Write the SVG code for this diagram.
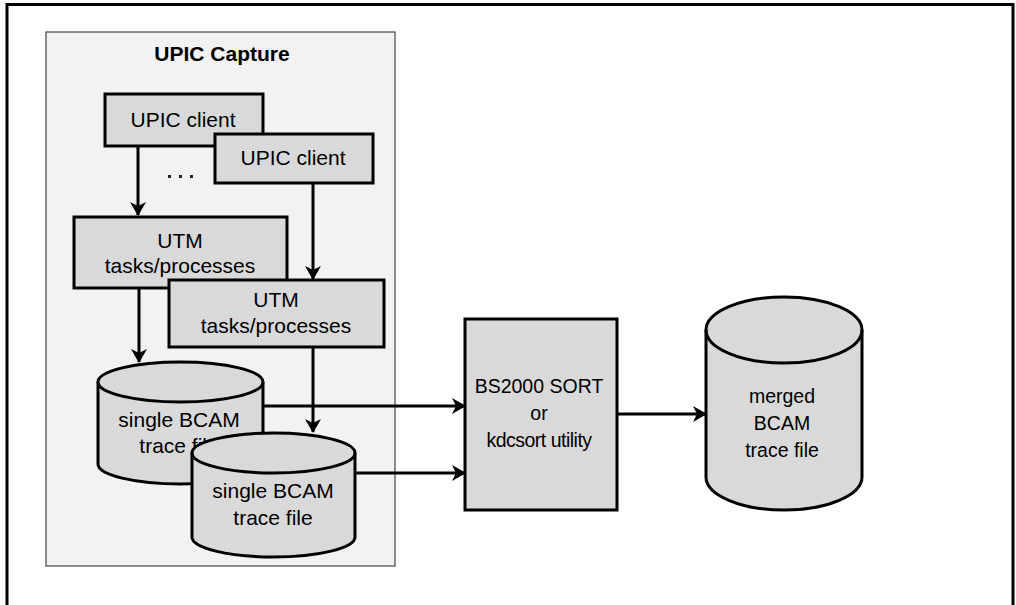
<svg xmlns="http://www.w3.org/2000/svg" width="1016" height="605" viewBox="0 0 1016 605">
<defs>
<style>
.box{fill:#d9d9d9;stroke:#000;stroke-width:3}
.cyl{fill:#d9d9d9;stroke:#000;stroke-width:3}
.t{font-family:"Liberation Sans",Arial,sans-serif;font-size:21px;fill:#000;text-anchor:middle}
.s{font-size:19.5px}
.c{fill:none;stroke:#000;stroke-width:3}
</style>
<marker id="arr" viewBox="0 0 14 16" refX="13" refY="8" markerWidth="14" markerHeight="16" markerUnits="userSpaceOnUse" orient="auto">
<path d="M0,0 L14,8 L0,16 L4,8 Z" fill="#000"/>
</marker>
</defs>
<rect x="0" y="0" width="1016" height="605" fill="#fff"/>
<rect id="frame" x="7" y="4.5" width="1006" height="640" fill="none" stroke="#000" stroke-width="3"/>
<g id="capture">
<rect x="46" y="32" width="349" height="534" fill="#f2f2f2" stroke="#444" stroke-width="1.2"/>
<text class="t" x="222" y="61" style="font-weight:bold">UPIC Capture</text>
</g>
<g id="connectors">
<path class="c" d="M138,146 V215" marker-end="url(#arr)"/>
<path class="c" d="M313,183 V279" marker-end="url(#arr)"/>
<path class="c" d="M139,288 V362" marker-end="url(#arr)"/>
<path class="c" d="M313,347 V432" marker-end="url(#arr)"/>
<path class="c" d="M263,406 H465" marker-end="url(#arr)"/>
<path class="c" d="M355,473 H465" marker-end="url(#arr)"/>
<path class="c" d="M617,414 H706" marker-end="url(#arr)"/>
</g>
<g id="client1">
<rect class="box" x="105" y="94" width="158" height="52"/>
<text class="t" x="183" y="127">UPIC client</text>
</g>
<g id="client2">
<rect class="box" x="215" y="134" width="158" height="49"/>
<text class="t" x="293" y="165">UPIC client</text>
</g>
<g id="dots" fill="#222">
<rect x="168" y="175" width="3" height="3"/>
<rect x="179" y="175" width="3" height="3"/>
<rect x="190" y="175" width="3" height="3"/>
</g>
<g id="utm1">
<rect class="box" x="74" y="217" width="213" height="71"/>
<text class="t" x="180" y="248">UTM</text>
<text class="t" x="180" y="273">tasks/processes</text>
</g>
<g id="utm2">
<rect class="box" x="169" y="280" width="215" height="67"/>
<text class="t" x="276" y="307">UTM</text>
<text class="t" x="276" y="333">tasks/processes</text>
</g>
<g id="trace1">
<path class="cyl" d="M98,382 V464 A82.5,20 0 0 0 263,464 V382 A82.5,20 0 0 0 98,382 Z"/>
<path class="c" d="M98,382 A82.5,20 0 0 0 263,382"/>
<text class="t" x="179" y="427">single BCAM</text>
<text class="t" x="179" y="453">trace file</text>
</g>
<g id="trace2">
<path class="cyl" d="M192,453 V537 A81.5,20 0 0 0 355,537 V453 A81.5,20 0 0 0 192,453 Z"/>
<path class="c" d="M192,453 A81.5,20 0 0 0 355,453"/>
<text class="t" x="273" y="498">single BCAM</text>
<text class="t" x="273" y="525">trace file</text>
</g>
<g id="sort">
<rect class="box" x="465" y="319" width="152" height="191"/>
<text class="t s" x="539" y="393">BS2000 SORT</text>
<text class="t s" x="539" y="420">or</text>
<text class="t s" x="539" y="447" style="letter-spacing:-0.5px">kdcsort utility</text>
</g>
<g id="merged">
<path class="cyl" d="M706,330 V477 A78,33 0 0 0 862,477 V330 A78,33 0 0 0 706,330 Z"/>
<path class="c" d="M706,330 A78,33 0 0 0 862,330"/>
<text class="t s" x="782" y="403">merged</text>
<text class="t s" x="782" y="430">BCAM</text>
<text class="t s" x="782" y="457">trace file</text>
</g>
</svg>
